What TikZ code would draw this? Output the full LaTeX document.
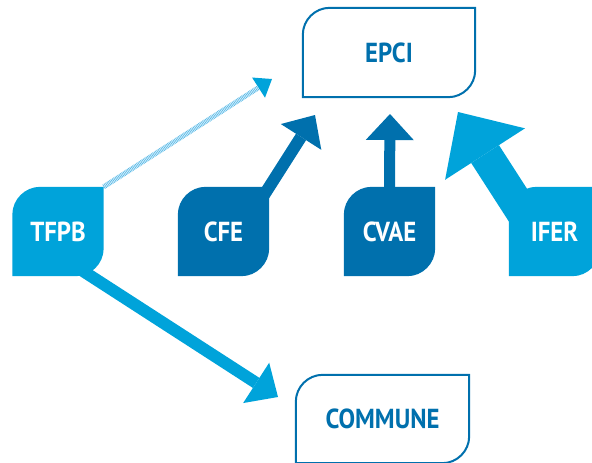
\documentclass[tikz,border=0pt]{standalone}
\usepackage{fontspec}
\setmainfont{PT Sans}[FakeStretch=0.9]
\usepackage{tikz}
\usetikzlibrary{arrows.meta,positioning,calc,backgrounds}
\definecolor{darkblue}{RGB}{0,112,173}
\definecolor{lightblue}{RGB}{0,163,218}
\definecolor{paleblue}{RGB}{95,188,232}

\tikzset{
  taxbox/.style={minimum width=91pt, minimum height=89pt, inner sep=0pt,
    font=\fontsize{27.5}{31}\selectfont\bfseries},
  levelbox/.style={taxbox, text=darkblue, minimum width=172pt},
  flow/.style={line width=12pt, -{Triangle[length=26pt,width=48pt,line width=0pt]}}
}
% leaf: only the top left and bottom right corners are rounded
\newcommand\leaf[3]{%
  \path[#1] (#2.south west) -- ($(#2.north west)+(0,#3)$)
    .. controls ($(#2.north west)+(0,0.45*#3)$) and ($(#2.north west)+(0.45*#3,0)$)
    .. ($(#2.north west)+(#3,0)$) -- (#2.north east)
    -- ($(#2.south east)+(0,-#3)$)
    .. controls ($(#2.south east)+(0,-0.45*#3)$) and ($(#2.south east)+(-0.45*#3,0)$)
    .. ($(#2.south east)+(-#3,0)$) -- cycle;}

\begin{document}
\begin{tikzpicture}[x=1pt,y=-1pt]
  \useasboundingbox (0,0) rectangle (592,463);

  % collectivites
  \node[levelbox] (epci) at (389,52.5) {EPCI};
  \node[levelbox, minimum width=173pt, minimum height=88pt] (commune) at (382.5,419) {COMMUNE};

  % impots
  \node[taxbox, text=white] (tfpb) at (58,231.5) {TFPB};
  \node[taxbox, text=white] (cfe) at (223.5,231.5) {CFE};
  \node[taxbox, text=white] (cvae) at (389.5,231.5) {CVAE};
  \node[taxbox, text=white] (ifer) at (554.5,231.5) {IFER};

  \coordinate (tfpbtip) at (272,79);
  \coordinate (cfetip) at (315,115);
  \coordinate (cvaetip) at (390,114);
  \coordinate (ifertip) at (458,112);
  \coordinate (communetip) at (278,397);

  \begin{scope}[on background layer]
    \leaf{draw=darkblue, line width=2pt, fill=white}{epci}{27}
    \leaf{draw=darkblue, line width=2pt, fill=white}{commune}{27}
    \leaf{fill=lightblue}{tfpb}{28}
    \leaf{fill=darkblue}{cfe}{28}
    \leaf{fill=darkblue}{cvae}{28}
    \leaf{fill=lightblue}{ifer}{28}

    \draw[paleblue, line width=5pt, dash pattern=on 0.8pt off 0.8pt,
      -{Triangle[length=16pt,width=24pt,line width=0pt,fill=lightblue,color=lightblue]}]
      (tfpb.north east) -- (tfpbtip);
    \draw[flow, darkblue] ($(cfe.north east)+(-5,8)$) -- (cfetip);
    \draw[flow, darkblue, line width=11pt] (cvae.north) -- (cvaetip);
    \draw[lightblue, line width=33pt, -{Triangle[length=50pt,width=95pt,line width=0pt]}]
      ($(ifer.north west)+(16,29)$) -- (ifertip);
    \draw[flow, lightblue] ($(tfpb.south east)+(-22,-6)$) -- (communetip);
  \end{scope}
\end{tikzpicture}
\end{document}
